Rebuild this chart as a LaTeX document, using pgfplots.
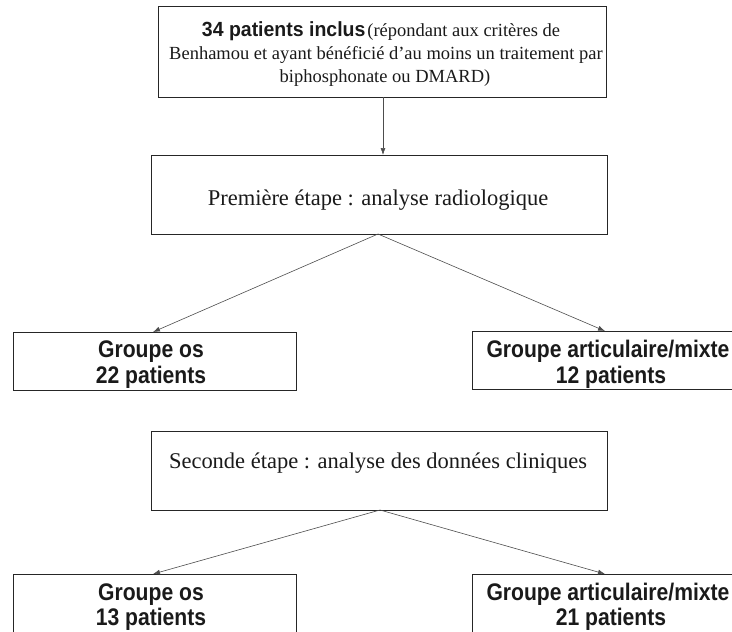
\documentclass[border=0pt]{standalone}
\usepackage{fontspec}
\setmainfont{Liberation Serif}
\newfontfamily\arialc[FakeStretch=0.95]{Liberation Sans}
\newfontfamily\arialn[FakeStretch=0.88]{Liberation Sans}
\usepackage{pgfplots}
\pgfplotsset{compat=1.18}
\usetikzlibrary{arrows.meta}
\definecolor{boxc}{HTML}{262626}
\definecolor{arrc}{HTML}{4D4D4D}
\definecolor{txt}{HTML}{1A1A1A}
\begin{document}
\begin{tikzpicture}
\begin{axis}[name=ax,
  xmin=0, xmax=732, ymin=0, ymax=632, y dir=reverse,
  scale only axis, width=732pt, height=632pt,
  hide axis, clip=false]
% boxes
\addplot[boxc, line width=1pt, mark=none] coordinates {(158,6) (606,6) (606,97) (158,97) (158,6)};
\addplot[boxc, line width=1pt, mark=none] coordinates {(151,155) (607,155) (607,234) (151,234) (151,155)};
\addplot[boxc, line width=1pt, mark=none] coordinates {(13,332) (296,332) (296,390) (13,390) (13,332)};
\addplot[boxc, line width=1pt, mark=none] coordinates {(732,331) (472,331) (472,389) (732,389)};
\addplot[boxc, line width=1pt, mark=none] coordinates {(151,431) (607,431) (607,510) (151,510) (151,431)};
\addplot[boxc, line width=1pt, mark=none] coordinates {(296,632) (296,574) (13,574) (13,632)};
\addplot[boxc, line width=1pt, mark=none] coordinates {(732,574) (472,574) (472,632)};
% arrows
\addplot[arrc, line width=0.6pt, mark=none, -{Latex[length=7pt,width=5pt]}] coordinates {(383,97) (383,155)};
\addplot[arrc, line width=0.6pt, mark=none, -{Latex[length=7pt,width=5pt]}] coordinates {(378,234) (153,332)};
\addplot[arrc, line width=0.6pt, mark=none, -{Latex[length=7pt,width=5pt]}] coordinates {(378,234) (605,331)};
\addplot[arrc, line width=0.6pt, mark=none, -{Latex[length=7pt,width=5pt]}] coordinates {(380,510) (153,574)};
\addplot[arrc, line width=0.6pt, mark=none, -{Latex[length=7pt,width=5pt]}] coordinates {(380,510) (605,574)};
% texts
\begin{scope}[every node/.style={anchor=base, inner sep=0pt, text=txt}]
\node at (axis cs:381,36) {{\arialc\bfseries\fontsize{20.5}{24}\selectfont 34 patients inclus}\hspace{2pt}{\fontsize{18.5}{22}\selectfont (répondant aux critères de}};
\node at (axis cs:386,59) {\fontsize{18.5}{22}\selectfont Benhamou et ayant bénéficié d’au moins un traitement par};
\node at (axis cs:385,82) {\fontsize{18.5}{22}\selectfont biphosphonate ou DMARD)};
\node at (axis cs:378,205) {\fontsize{22.5}{26}\selectfont Première étape : analyse radiologique};
\node at (axis cs:378,468) {\fontsize{22.5}{26}\selectfont Seconde étape : analyse des données cliniques};
\node at (axis cs:151,357) {\arialn\bfseries\fontsize{24}{28}\selectfont Groupe os};
\node at (axis cs:151,383) {\arialn\bfseries\fontsize{24}{28}\selectfont 22 patients};
\node at (axis cs:608,357) {\arialn\bfseries\fontsize{24}{28}\selectfont Groupe articulaire/mixte};
\node at (axis cs:611,383) {\arialn\bfseries\fontsize{24}{28}\selectfont 12 patients};
\node at (axis cs:151,600) {\arialn\bfseries\fontsize{24}{28}\selectfont Groupe os};
\node at (axis cs:151,625) {\arialn\bfseries\fontsize{24}{28}\selectfont 13 patients};
\node at (axis cs:608,600) {\arialn\bfseries\fontsize{24}{28}\selectfont Groupe articulaire/mixte};
\node at (axis cs:611,625) {\arialn\bfseries\fontsize{24}{28}\selectfont 21 patients};
\end{scope}
\end{axis}
\pgfresetboundingbox
\path[use as bounding box] (ax.south west) rectangle (ax.north east);
\end{tikzpicture}
\end{document}
